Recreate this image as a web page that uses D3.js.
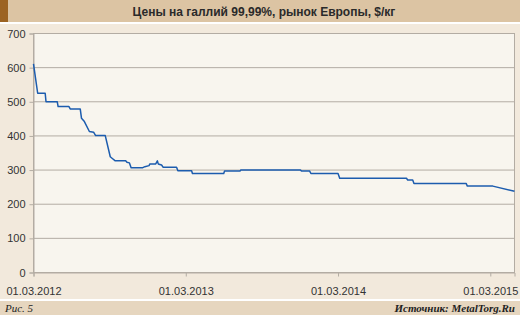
<!DOCTYPE html>
<html>
<head>
<meta charset="utf-8">
<script src="https://cdn.jsdelivr.net/npm/d3@7"></script>
<style>
  html, body { margin: 0; padding: 0; background: #f2e9dc; }
  svg { display: block; }
</style>
</head>
<body>
<div id="chart"></div>
<script>
// Gallium 99.99% price, Europe, $/kg
const dates = [
  '2012-03-01', '2012-03-11', '2012-03-29', '2012-03-31', '2012-04-27', '2012-04-29',
  '2012-05-25', '2012-05-28', '2012-06-21', '2012-06-24', '2012-07-01', '2012-07-13',
  '2012-07-23', '2012-07-28', '2012-08-20', '2012-09-01', '2012-09-06', '2012-09-13',
  '2012-10-08', '2012-10-11', '2012-10-17', '2012-10-21', '2012-11-18', '2012-11-23',
  '2012-12-03', '2012-12-05', '2012-12-19', '2012-12-23', '2012-12-25', '2013-01-02',
  '2013-01-06', '2013-02-07', '2013-02-10', '2013-03-15', '2013-03-17', '2013-05-31',
  '2013-06-02', '2013-07-09', '2013-07-11', '2013-12-01', '2013-12-04', '2013-12-23',
  '2013-12-26', '2014-03-01', '2014-03-05', '2014-08-12', '2014-08-15', '2014-08-27',
  '2014-08-30', '2015-01-02', '2015-01-05', '2015-03-07', '2015-04-28'
];
const prices = [
  611, 525, 525, 500, 500, 486,
  486, 479, 479, 452, 442, 413,
  411, 401, 401, 339, 334, 327,
  327, 323, 321, 307, 307, 310,
  313, 318, 318, 327, 318, 315,
  308, 308, 298, 298, 290, 290,
  297, 297, 300, 300, 297, 297,
  290, 290, 276, 276, 271, 271,
  261, 261, 253, 253, 238
];
const yTicks = [0, 100, 200, 300, 400, 500, 600, 700];
const xTicks = ['2012-03-01', '2013-03-01', '2014-03-01', '2015-03-01'];
const xDomain = ['2012-03-01', '2015-04-28'];

const title = 'Цены на галлий 99,99%, рынок Европы, $/кг';
const figLabel = 'Рис. 5';
const sourceLabel = 'Источник: MetalTorg.Ru';

const W = 520, H = 315;
const plot = { left: 33.5, right: 514.5, top: 33.5, bottom: 272.5 };
const parse = d3.utcParse('%Y-%m-%d');
const fmt = d3.utcFormat('%d.%m.%Y');
const series = dates.map((d, i) => ({ date: parse(d), value: prices[i] }));

const svg = d3.select('#chart').append('svg')
  .attr('width', W)
  .attr('height', H);

// Backgrounds
svg.append('rect').attr('width', W).attr('height', H).attr('fill', '#f2e9dc');
svg.append('rect').attr('width', W).attr('height', 22).attr('fill', '#dcc4a3');
svg.append('rect').attr('width', 8).attr('height', 22).attr('fill', '#9c6322');
svg.append('rect').attr('y', 22).attr('width', W).attr('height', 2).attr('fill', '#ffffff');
svg.append('rect').attr('y', 299).attr('width', W).attr('height', 2).attr('fill', '#ffffff');
svg.append('rect').attr('y', 301).attr('width', W).attr('height', 14).attr('fill', '#e6d6bf');

svg.append('text')
  .attr('x', 264).attr('y', 15.5)
  .attr('text-anchor', 'middle')
  .style('font-family', '"Liberation Sans", Arial, sans-serif')
  .style('font-size', '12px')
  .style('font-weight', 'bold')
  .attr('fill', '#2a2a2a')
  .text(title);

svg.append('text')
  .attr('x', 5).attr('y', 312)
  .style('font-family', '"Liberation Serif", "Times New Roman", serif')
  .style('font-size', '11px')
  .style('font-style', 'italic')
  .attr('fill', '#222')
  .text(figLabel);

svg.append('text')
  .attr('x', 515).attr('y', 312)
  .attr('text-anchor', 'end')
  .style('font-family', '"Liberation Serif", "Times New Roman", serif')
  .style('font-size', '11px')
  .style('font-style', 'italic')
  .style('font-weight', 'bold')
  .attr('fill', '#222')
  .text(sourceLabel);

// Scales
const x = d3.scaleUtc()
  .domain(xDomain.map(parse))
  .range([plot.left, plot.right]);
const y = d3.scaleLinear()
  .domain([0, 700])
  .range([plot.bottom, plot.top]);

// Plot area
svg.append('rect')
  .attr('x', plot.left).attr('y', plot.top)
  .attr('width', plot.right - plot.left)
  .attr('height', plot.bottom - plot.top)
  .attr('fill', '#f8f5ee')
  .attr('stroke', '#b3aca3');

// Y axis with gridlines
const yAxis = svg.append('g')
  .attr('transform', `translate(${plot.left},0)`)
  .call(d3.axisLeft(y).tickValues(yTicks).tickSize(4).tickPadding(4));
yAxis.select('.domain').attr('stroke', '#b3aca3');
yAxis.selectAll('.tick line').attr('stroke', '#b3aca3');
yAxis.selectAll('.tick text')
  .style('font-family', '"Liberation Sans", Arial, sans-serif')
  .style('font-size', '11px')
  .attr('fill', '#333');

svg.append('g').selectAll('line')
  .data(yTicks)
  .join('line')
  .attr('x1', plot.left).attr('x2', plot.right)
  .attr('y1', d => y(d)).attr('y2', d => y(d))
  .attr('stroke', '#b3aca3');

// X axis
const xAxis = svg.append('g')
  .attr('transform', `translate(0,${plot.bottom})`)
  .call(d3.axisBottom(x).tickValues(xTicks.map(parse)).tickFormat(fmt).tickSize(4).tickPadding(11));
xAxis.select('.domain').attr('stroke', '#b3aca3');
xAxis.selectAll('.tick line').attr('stroke', '#b3aca3');
xAxis.selectAll('.tick text')
  .style('font-family', '"Liberation Sans", Arial, sans-serif')
  .style('font-size', '11px')
  .attr('fill', '#333');

// Price line
const line = d3.line()
  .x(d => x(d.date))
  .y(d => y(d.value));

svg.append('path')
  .datum(series)
  .attr('fill', 'none')
  .attr('stroke', '#1c5cae')
  .attr('stroke-width', 1.5)
  .attr('stroke-linejoin', 'round')
  .attr('d', line);
</script>
</body>
</html>
